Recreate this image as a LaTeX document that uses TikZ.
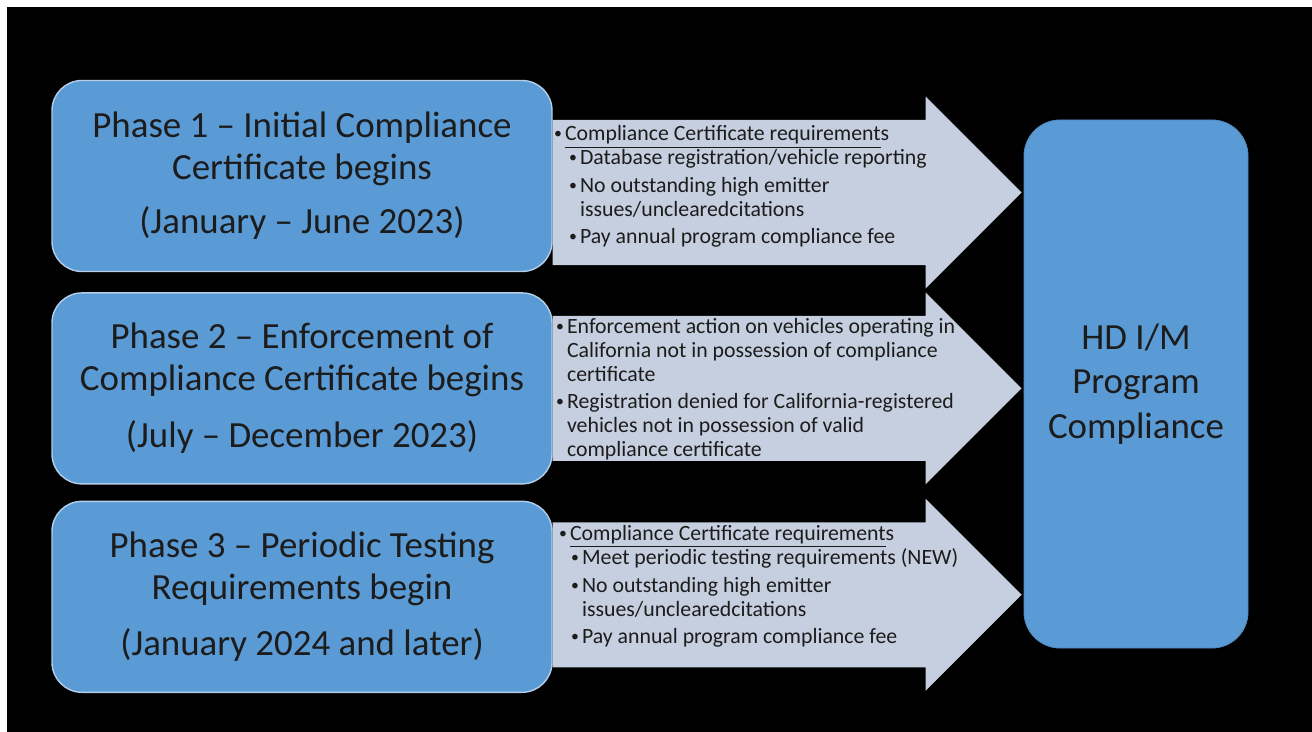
\documentclass[tikz,border=0pt]{standalone}
\usepackage{fontspec}
\setmainfont{Carlito}
\usepackage{tikz}
\usetikzlibrary{calc,positioning}
\definecolor{phaseblue}{HTML}{5B9BD5}
\definecolor{phaseedge}{HTML}{B3CDE9}
\definecolor{goaledge}{HTML}{5289C0}
\definecolor{arrowgrey}{HTML}{C6CFDF}
\definecolor{inktext}{HTML}{1C1C1C}
\newcommand{\itembul}{\makebox[0.22cm][l]{\raisebox{0.2ex}{\fontsize{9}{9}\selectfont\textbullet}}}

\begin{document}
\begin{tikzpicture}[
  node distance=0.4cm,
  phasebox/.style={draw=phaseedge, line width=0.8pt, fill=phaseblue, rounded corners=0.6cm, align=center, minimum width=10cm, minimum height=3.82cm, text=inktext, font=\fontsize{21}{23.8}\selectfont},
  goalbox/.style={draw=goaledge, line width=0.5pt, fill=phaseblue, rounded corners=0.72cm, align=center, minimum width=4.48cm, minimum height=10.56cm, text=inktext, font=\fontsize{21}{25.5}\selectfont},
  notetext/.style={anchor=north west, inner sep=0pt, align=left, text=inktext, font=\fontsize{12.4}{13.6}\selectfont},
  blockarrow/.style={fill=arrowgrey}
]
\useasboundingbox (0,0) rectangle (26.24,-14.64);
\fill[white] (0,0) rectangle (26.24,-14.64);
\fill[black] (0.14,-0.14) rectangle (26.24,-14.64);

\node[phasebox] (p1) at (6.04,-3.52) {Phase 1 -- Initial Compliance\\Certificate begins\\[7pt](January -- June 2023)};
\node[phasebox, below=0.4cm of p1] (p2) {Phase 2 -- Enforcement of\\Compliance Certificate begins\\[9pt](July -- December 2023)};
\node[phasebox, below=0.32cm of p2] (p3) {Phase 3 -- Periodic Testing\\Requirements begin\\[8pt](January 2024 and later)};

\node[goalbox] (goal) at (22.72,-7.68) {HD I/M\\Program\\Compliance};

\foreach \n/\dy in {1/-0.33,2/0,3/0.04}{
  \coordinate (s\n) at ($(p\n.east)+(0,\dy)$);
  \coordinate (t\n) at ($(goal.west |- s\n)+(-0.04,0)$);
  \fill[blockarrow] ($(s\n)+(0,1.45)$) -- ($(t\n)+(-1.92,1.45)$) -- ($(t\n)+(-1.92,1.92)$) -- (t\n)
    -- ($(t\n)+(-1.92,-1.92)$) -- ($(t\n)+(-1.92,-1.45)$) -- ($(s\n)+(0,-1.45)$) -- cycle;
}

\node[notetext] (n1) at ($(s1)+(0.02,1.34)$) {\itembul\underline{Compliance Certificate requirement}s\\
  \hspace*{0.3cm}\itembul Database registration/vehicle reporting\\[2pt]
  \hspace*{0.3cm}\itembul No outstanding high emitter\\
  \hspace*{0.52cm}issues/unclearedcitations\\[2pt]
  \hspace*{0.3cm}\itembul Pay annual program compliance fee};
\node[notetext] (n2) at ($(s2)+(0.06,1.41)$) {\itembul Enforcement action on vehicles operating in\\
  \hspace*{0.22cm}California not in possession of compliance\\
  \hspace*{0.22cm}certificate\\[2pt]
  \itembul Registration denied for California-registered\\
  \hspace*{0.22cm}vehicles not in possession of valid\\
  \hspace*{0.22cm}compliance certificate};
\node[notetext] (n3) at ($(s3)+(0.12,1.39)$) {\itembul\underline{Compliance Certificate requirement}s\\
  \hspace*{0.24cm}\itembul Meet periodic testing requirements (NEW)\\[2pt]
  \hspace*{0.24cm}\itembul No outstanding high emitter\\
  \hspace*{0.46cm}issues/unclearedcitations\\[2pt]
  \hspace*{0.24cm}\itembul Pay annual program compliance fee};
\end{tikzpicture}
\end{document}
